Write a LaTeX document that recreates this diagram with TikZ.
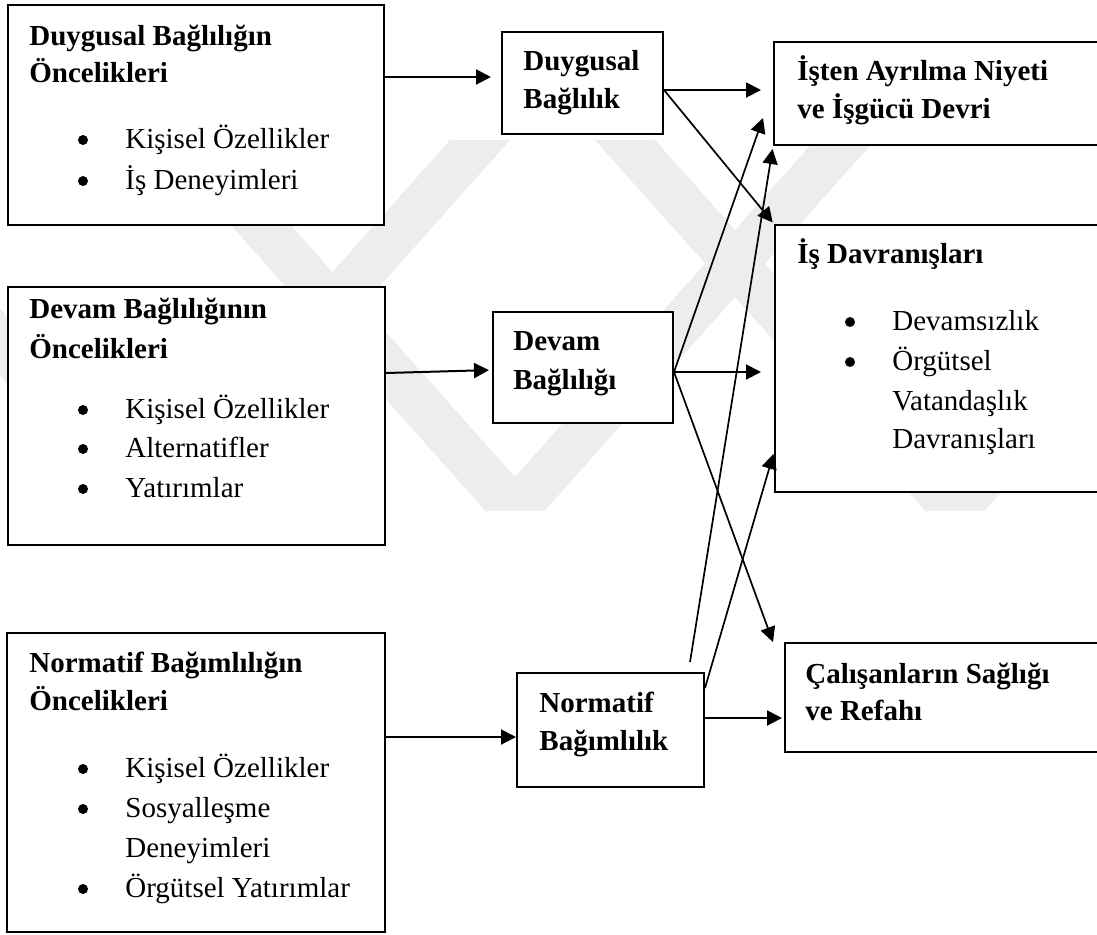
\documentclass[tikz,border=0pt]{standalone}
\usepackage{fontspec}
\setmainfont{Liberation Serif}
\usetikzlibrary{arrows.meta,fit}

\begin{document}
\begin{tikzpicture}[x=0.5pt,y=-0.5pt,
  every node/.style={inner sep=0pt,font=\fontsize{14.5pt}{17pt}\selectfont},
  box/.style={draw,line width=1pt,fill=white,inner sep=0pt},
  head/.style={anchor=base west,font=\bfseries\fontsize{14.5pt}{17pt}\selectfont},
  item/.style={anchor=base west},
  bullet/.style={circle,fill=black,minimum size=5pt,inner sep=0pt},
  link/.style={line width=1pt,-{Triangle[length=7.5pt,width=7.5pt]}},
  slant/.style={line width=0.85pt,-{Triangle[length=7.5pt,width=7.5pt]}},
  watermark/.style={fill=black!7,draw=none}]

\useasboundingbox (0,0) rectangle (1097,934);
\clip (0,0) rectangle (1097,934);

% pale chevron logo in the background
\begin{scope}
  \clip (0,140) rectangle (1097,510);
  \foreach \c in {150,515,955}
    \fill[watermark] ({\c-360},140) -- (\c,544) -- ({\c+360},140)
      -- ({\c+300},140) -- (\c,477) -- ({\c-300},140) -- cycle;
\end{scope}

% boxes
\node[box,fit={(8,5)(384,225)}] (b1) {};
\node[box,fit={(8,287)(385,545)}] (b2) {};
\node[box,fit={(7,633)(385,932)}] (b3) {};
\node[box,fit={(502,32)(663,134)}] (db) {};
\node[box,fit={(493,312)(673,423)}] (dv) {};
\node[box,fit={(517,673)(704,787)}] (nb) {};
\node[box,fit={(774,42)(1130,145)}] (ia) {};
\node[box,fit={(775,225)(1130,492)}] (id) {};
\node[box,fit={(785,643)(1130,752)}] (cs) {};

% antecedents of affective commitment
\node[head] (b1h1) at (29,45) {Duygusal Bağlılığın};
\node[head] (b1h2) at (29,82) {Öncelikleri};
\node[bullet] (b1d1) at (83,140) {};
\node[item] (b1i1) at (125,148) {Kişisel Özellikler};
\node[bullet] (b1d2) at (83,181) {};
\node[item] (b1i2) at (125,189) {İş Deneyimleri};

% antecedents of continuance commitment
\node[head] (b2h1) at (29,318) {Devam Bağlılığının};
\node[head] (b2h2) at (29,358) {Öncelikleri};
\node[bullet] (b2d1) at (83,410) {};
\node[item] (b2i1) at (125,418) {Kişisel Özellikler};
\node[bullet] (b2d2) at (83,449) {};
\node[item] (b2i2) at (125,457) {Alternatifler};
\node[bullet] (b2d3) at (83,489) {};
\node[item] (b2i3) at (125,497) {Yatırımlar};

% antecedents of normative commitment
\node[head] (b3h1) at (29,672) {Normatif Bağımlılığın};
\node[head] (b3h2) at (29,710) {Öncelikleri};
\node[bullet] (b3d1) at (83,769) {};
\node[item] (b3i1) at (125,777) {Kişisel Özellikler};
\node[bullet] (b3d2) at (83,809) {};
\node[item] (b3i2) at (125,817) {Sosyalleşme};
\node[item] (b3i3) at (125,857) {Deneyimleri};
\node[bullet] (b3d4) at (83,889) {};
\node[item] (b3i4) at (125,897) {Örgütsel Yatırımlar};

% commitment components
\node[head] (dbh1) at (523,70) {Duygusal};
\node[head] (dbh2) at (523,108) {Bağlılık};
\node[head] (dvh1) at (513,350) {Devam};
\node[head] (dvh2) at (513,389) {Bağlılığı};
\node[head] (nbh1) at (539,712) {Normatif};
\node[head] (nbh2) at (539,750) {Bağımlılık};

% outcomes
\node[head] (iah1) at (797,80) {İşten Ayrılma Niyeti};
\node[head] (iah2) at (797,118) {ve İşgücü Devri};
\node[head] (idh) at (797,263) {İş Davranışları};
\node[bullet] (idd1) at (850,322) {};
\node[item] (idi1) at (892,330) {Devamsızlık};
\node[bullet] (idd2) at (850,362) {};
\node[item] (idi2) at (892,370) {Örgütsel};
\node[item] (idi3) at (892,410) {Vatandaşlık};
\node[item] (idi4) at (892,448) {Davranışları};
\node[head] (csh1) at (805,683) {Çalışanların Sağlığı};
\node[head] (csh2) at (805,720) {ve Refahı};

% free ends of the long connectors
\coordinate (dvtoia) at (763,118);
\coordinate (dvtocs) at (773,642);
\coordinate (nbfree) at (690,662);

% antecedents -> components
\draw[link,shorten >=5pt] (b1.east |- 0,77) -- (db.west |- 0,77);
\draw[link,shorten >=1.5pt] (b2.east |- 0,373) -- (dv.west |- 0,370);
\draw[link] (b3.east |- 0,737) -- (nb.west |- 0,737);

% components -> outcomes
\draw[link,shorten >=6pt] (db.east |- 0,90) -- (ia.west |- 0,90);
\draw[slant,shorten >=1pt] (db.east |- 0,90) -- (id.north west);
\draw[link,shorten >=6.5pt] (dv.east |- 0,372) -- (id.west |- 0,372);
\draw[slant] (dv.east |- 0,372) -- (dvtoia);
\draw[slant] (dv.east |- 0,372) -- (dvtocs);
\draw[slant,shorten >=1.5pt] (nbfree) -- (ia.south west);
\draw[slant,shorten >=1pt] (nb.east |- 0,688) -- (id.west |- 0,452);
\draw[link,shorten >=1pt] (nb.east |- 0,718) -- (cs.west |- 0,718);

\end{tikzpicture}
\end{document}
